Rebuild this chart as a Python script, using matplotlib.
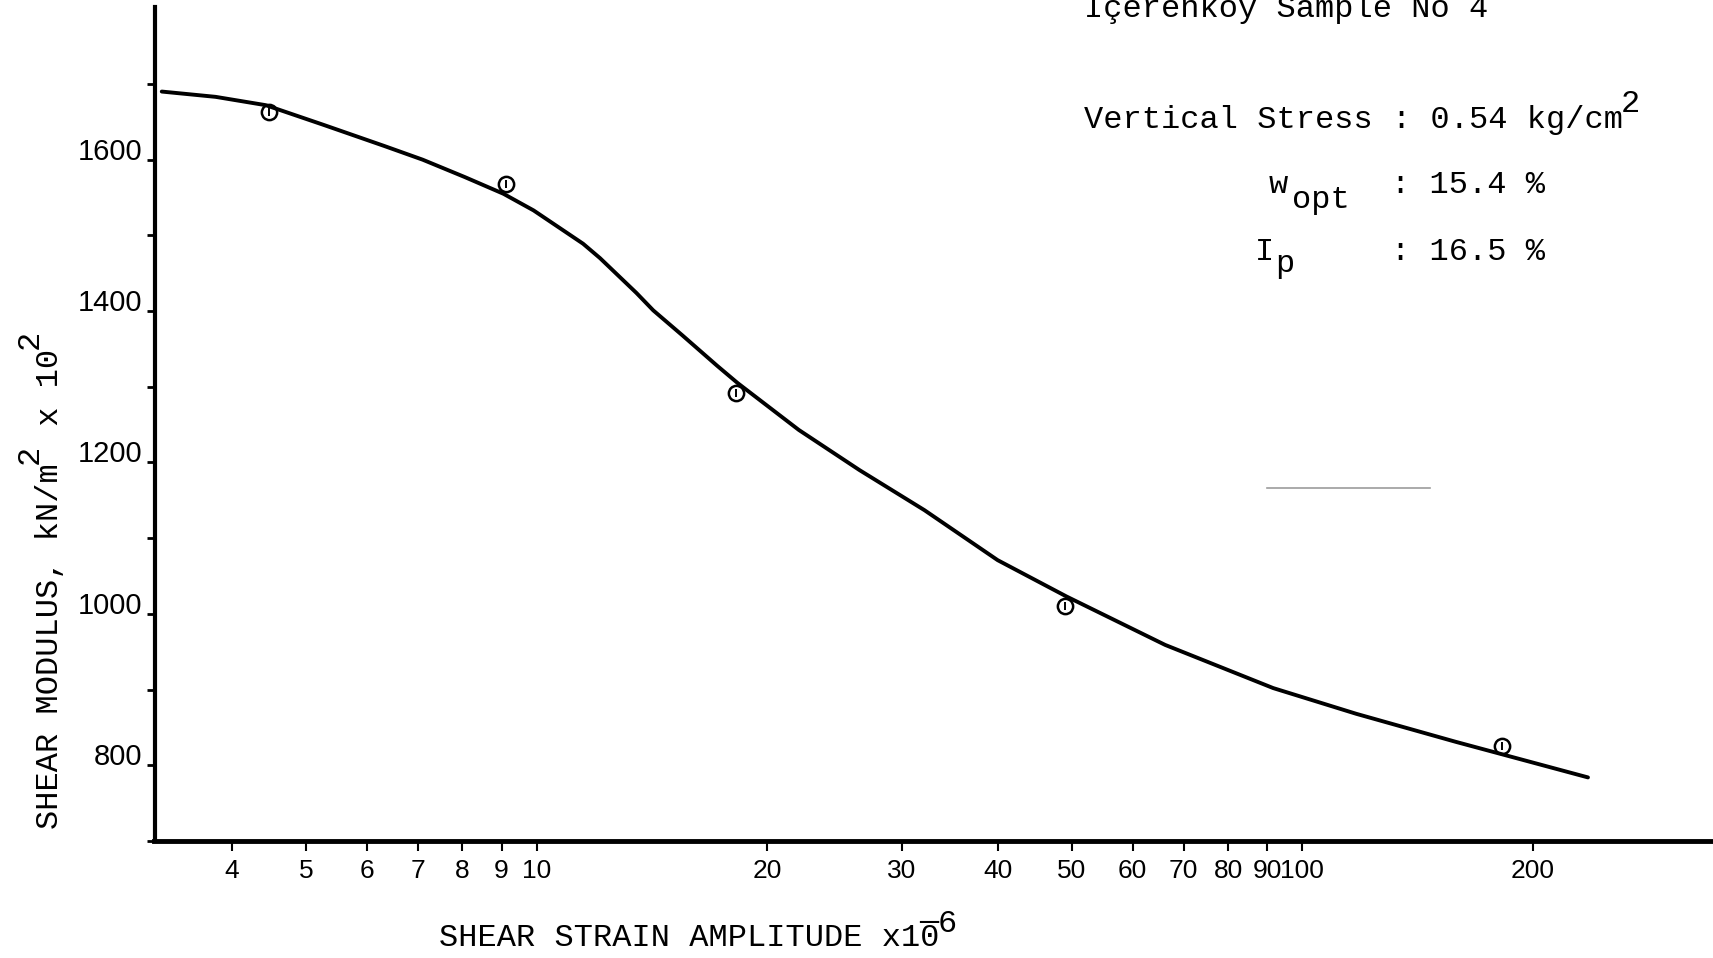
import numpy as np
import matplotlib
matplotlib.use("Agg")
from matplotlib import pyplot as plt

# hand drawn curve
strain_curve = [3.24, 3.81, 4.43, 5.27, 6.33, 7.10, 8.06, 9.05, 9.91, 11.5, 12.1,
                13.5, 14.2, 15.5, 17.2, 18.3, 22.0, 26.4, 32.1, 40.0, 49.2, 66.2,
                91.6, 117.6, 158.6, 236]
modulus_curve = [1690, 1683, 1672, 1646, 1618, 1600, 1577, 1555, 1533, 1489, 1470,
                 1424, 1401, 1368, 1328, 1305, 1243, 1190, 1137, 1071, 1023, 959,
                 902, 868, 831, 784]

# measured points (circles)
strain_pts = [4.47, 9.12, 18.2, 49.0, 182]
modulus_pts = [1663, 1568, 1292, 1010, 825]

xticks = [4, 5, 6, 7, 8, 9, 10, 20, 30, 40, 50, 60, 70, 80, 90, 100, 200]
yticks = [700, 800, 900, 1000, 1100, 1200, 1300, 1400, 1500, 1600, 1700]
ylabels = ['', '800', '', '1000', '', '1200', '', '1400', '', '1600', '']

W, H = 1713, 958
fig = plt.figure(figsize=(W/100, H/100), dpi=100)
ax = fig.add_axes([154.5/W, 1-841/H, (W-154.5)/W, (841-7)/H])

ax.plot(strain_curve, modulus_curve, color='black', lw=2.8,
        solid_capstyle='round', solid_joinstyle='round')
ax.plot(strain_pts, modulus_pts, 'o', ms=11, mfc='none', mec='black', mew=1.8)
ax.plot(strain_pts, modulus_pts, '|', ms=6, mec='black', mew=1.4)

ax.set_xscale('log')
ax.set_xlim(3.17, 343.7)
ax.set_ylim(700, 1801.7)

for s in ['top', 'right']:
    ax.spines[s].set_visible(False)
ax.spines['left'].set_linewidth(3)
ax.spines['bottom'].set_linewidth(3.5)

sans = ['Liberation Sans', 'DejaVu Sans']
ax.set_xticks(xticks)
ax.set_xticklabels([str(t) for t in xticks], family=sans, fontsize=19)
ax.xaxis.set_minor_locator(matplotlib.ticker.NullLocator())
ax.set_yticks(yticks)
ax.set_yticklabels(ylabels, family=sans, fontsize=21)
for lab in ax.get_yticklabels():
    lab.set_verticalalignment('baseline')
ax.tick_params(axis='x', direction='out', length=7, width=1.5, pad=6)
ax.tick_params(axis='y', direction='out', length=6, width=2, pad=3)

# faint stray rule from the scan
ax.plot([10**(1+(1267-537)/765.7), 10**(1+(1430-537)/765.7)],
        [700+(841-488)/0.757]*2, color='0.45', lw=1.2, alpha=0.7)

mono = ['Liberation Mono', 'DejaVu Sans Mono']
fs = 23
pitch = 19.2

def put(txt, x, y, **kw):
    fig.text(x/W, 1-y/H, txt, family=mono, fontsize=kw.pop('size', fs),
             va=kw.pop('va', 'baseline'), ha=kw.pop('ha', 'left'), **kw)

put('SHEAR STRAIN AMPLITUDE x10', 439, 946)
put('\u00af', 918.8, 946)
put('6', 938, 932)

# y label, built from pieces so the superscripts sit high like the typed ones
def puty(txt, x, y):
    fig.text(x/W, 1-y/H, txt, family=mono, fontsize=fs, rotation=90,
             rotation_mode='anchor', ha='left', va='baseline')

part1 = 'SHEAR MODULUS, kN/m'
part2 = ' x 10'
y0 = 829
puty(part1, 58, y0)
y1 = y0 - len(part1)*pitch
puty('2', 38, y1)
y2 = y1 - pitch
puty(part2, 58, y2)
y3 = y2 - len(part2)*pitch
puty('2', 38, y3)

put('I\u00e7erenkoy Sample No 4', 1084, 17)
put('Vertical Stress : 0.54 kg/cm', 1084, 128)
put('2', 1621, 112)
put('w', 1269, 193)
put('opt', 1292, 208)
put(': 15.4 %', 1391, 193)
put('I', 1255, 260)
put('p', 1275, 272)
put(': 16.5 %', 1391, 260)

fig.savefig('out.png', dpi=100)
